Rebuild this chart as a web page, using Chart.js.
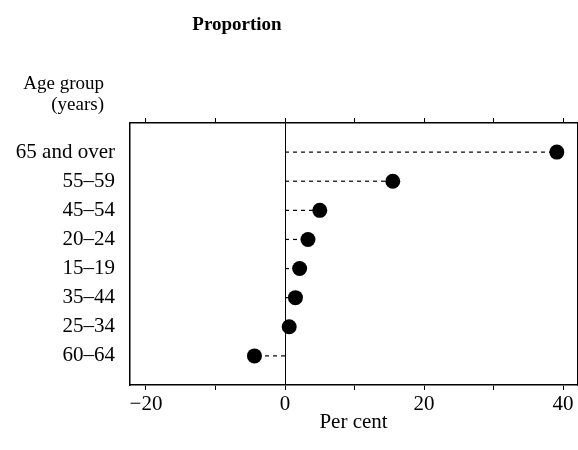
<!DOCTYPE html>
<html>
<head>
<meta charset="utf-8">
<script src="https://cdn.jsdelivr.net/npm/chart.js@4/dist/chart.umd.min.js"></script>
<style>
  body { margin: 0; background: #fff; }
</style>
</head>
<body>
<canvas id="chart" width="578" height="450"></canvas>
<script>
const ageGroups = ['65 and over', '55\u201359', '45\u201354', '20\u201324', '15\u201319', '35\u201344', '25\u201334', '60\u201364'];
const proportion = [39.1, 15.5, 5.0, 3.3, 2.1, 1.5, 0.6, -4.4];
const xTicks = [-20, -10, 0, 10, 20, 30, 40];
const xLabels = {'-20': '\u221220', '0': '0', '20': '20', '40': '40'};

const serif = 'Liberation Serif';
const black = '#000';

let datasets = [];
ageGroups.forEach((g, i) => {
  datasets.push({
    data: [{x: 0, y: i + 1}, {x: proportion[i], y: i + 1}],
    showLine: true,
    borderColor: black,
    borderWidth: 1.2,
    borderDash: [4, 4],
    pointRadius: 0,
  });
});
datasets.push({
  data: proportion.map((v, i) => ({x: v, y: i + 1})),
  pointRadius: 7.5,
  backgroundColor: black,
  borderColor: black,
  pointBorderWidth: 0,
});

const setXTicks = axis => { axis.ticks = xTicks.map(v => ({value: v})); };

const textPlugin = {
  id: 'texts',
  afterDraw(chart) {
    const c = chart.ctx;
    c.save();
    c.fillStyle = black;
    c.textBaseline = 'middle';
    c.font = `bold 19px "${serif}"`;
    c.textAlign = 'center';
    c.fillText('Proportion', 237, 25);
    c.font = `19px "${serif}"`;
    c.textAlign = 'right';
    c.fillText('Age group', 104, 84);
    c.fillText('(years)', 104, 105);
    c.restore();
  }
};

new Chart(document.getElementById('chart'), {
  type: 'scatter',
  data: {datasets: datasets},
  plugins: [textPlugin],
  options: {
    responsive: false,
    animation: false,
    layout: {padding: 0, autoPadding: false},
    plugins: {legend: {display: false}, tooltip: {enabled: false}},
    scales: {
      x: {
        type: 'linear', position: 'bottom', min: -22.3, max: 42,
        afterBuildTicks: setXTicks,
        afterFit: s => { s.height = 65; s.paddingRight = 0; s.paddingLeft = 0; },
        ticks: {
          autoSkip: false, maxRotation: 0, padding: 2, color: black,
          font: {family: serif, size: 21},
          callback: v => xLabels[String(v)] || '',
        },
        grid: {
          color: c => (c.tick && c.tick.value === 0) ? black : 'transparent',
          tickColor: black, tickLength: 5, lineWidth: 1,
        },
        border: {color: black, width: 1.5},
        title: {display: true, text: 'Per cent', color: black, font: {family: serif, size: 21}, padding: {top: 0, bottom: 15}},
      },
      x2: {
        type: 'linear', position: 'top', min: -22.3, max: 42,
        afterBuildTicks: setXTicks,
        afterFit: s => { s.height = 123; s.paddingRight = 0; s.paddingLeft = 0; },
        ticks: {display: false},
        grid: {drawOnChartArea: false, tickColor: black, tickLength: 5},
        border: {color: black, width: 1.5},
      },
      y: {
        type: 'linear', position: 'left', min: 0, max: 9, reverse: true,
        afterBuildTicks: axis => { axis.ticks = ageGroups.map((g, i) => ({value: i + 1})); },
        afterFit: s => { s.width = 130; },
        ticks: {
          autoSkip: false, padding: 15, color: black,
          font: {family: serif, size: 21},
          callback: v => ageGroups[v - 1] || '',
        },
        grid: {drawOnChartArea: false, drawTicks: false},
        border: {color: black, width: 1.5},
      },
      y2: {
        type: 'linear', position: 'right', min: 0, max: 9,
        afterFit: s => { s.width = 1; },
        ticks: {display: false},
        grid: {drawOnChartArea: false, drawTicks: false},
        border: {color: black, width: 1},
      },
    },
  },
});
</script>
</body>
</html>
